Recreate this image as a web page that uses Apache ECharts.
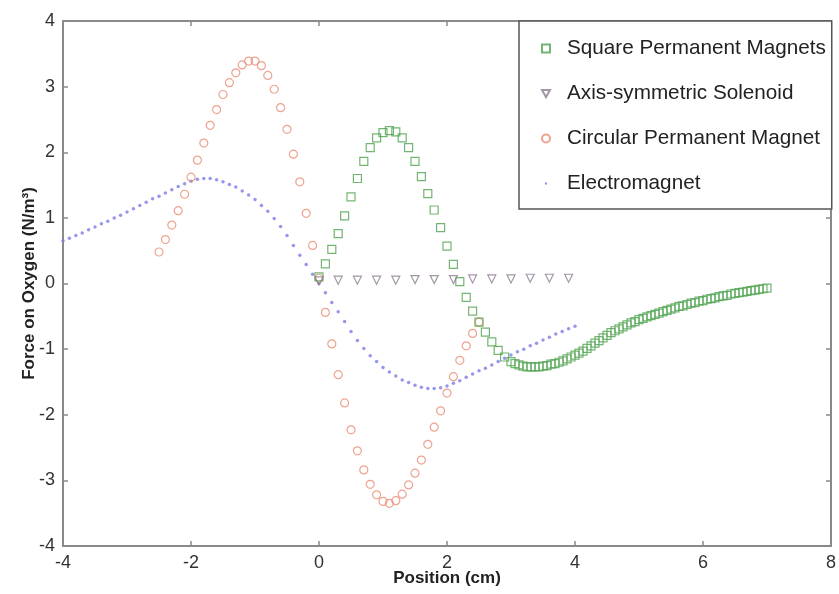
<!DOCTYPE html>
<html>
<head>
<meta charset="utf-8">
<script src="https://cdn.jsdelivr.net/npm/echarts@6/dist/echarts.min.js"></script>
<style>
html,body{margin:0;padding:0;background:#fff;}
#chart{width:839px;height:594px;}
</style>
</head>
<body>
<div id="chart"></div>
<script>
// ---------- data ----------
const xTicks = [-4, -2, 0, 2, 4, 6, 8];
const yTicks = [-4, -3, -2, -1, 0, 1, 2, 3, 4];

const seriesNames = ['Square Permanent Magnets', 'Axis-symmetric Solenoid', 'Circular Permanent Magnet', 'Electromagnet'];

// Square Permanent Magnets
const squareX = [0.0,0.1,0.2,0.3,0.4,0.5,0.6,0.7,0.8,0.9,1.0,1.1,1.2,1.3,1.4,1.5,1.6,1.7,1.8,1.9,2.0,2.1,2.2,2.3,2.4,2.5,2.6,2.7,2.8,2.9,
  3.0,3.0625,3.125,3.1875,3.25,3.3125,3.375,3.4375,3.5,3.5625,3.625,3.6875,3.75,3.8125,3.875,3.9375,
  4.0,4.0625,4.125,4.1875,4.25,4.3125,4.375,4.4375,4.5,4.5625,4.625,4.6875,4.75,4.8125,4.875,4.9375,
  5.0,5.0625,5.125,5.1875,5.25,5.3125,5.375,5.4375,5.5,5.5625,5.625,5.6875,5.75,5.8125,5.875,5.9375,
  6.0,6.0625,6.125,6.1875,6.25,6.3125,6.375,6.4375,6.5,6.5625,6.625,6.6875,6.75,6.8125,6.875,6.9375,7.0];
const squareY = [0.10,0.30,0.52,0.76,1.03,1.32,1.60,1.86,2.07,2.22,2.30,2.33,2.31,2.22,2.07,1.86,1.63,1.37,1.12,0.85,0.57,0.29,0.03,-0.21,-0.42,-0.59,-0.74,-0.89,-1.02,-1.12,
  -1.19,-1.22,-1.24,-1.26,-1.27,-1.27,-1.27,-1.27,-1.26,-1.25,-1.23,-1.22,-1.20,-1.18,-1.15,-1.12,
  -1.09,-1.06,-1.03,-0.99,-0.95,-0.91,-0.87,-0.83,-0.79,-0.75,-0.72,-0.69,-0.66,-0.63,-0.60,-0.58,
  -0.55,-0.53,-0.51,-0.49,-0.47,-0.45,-0.43,-0.41,-0.39,-0.37,-0.35,-0.34,-0.32,-0.30,-0.29,-0.27,
  -0.26,-0.24,-0.23,-0.22,-0.20,-0.19,-0.18,-0.16,-0.15,-0.14,-0.13,-0.12,-0.11,-0.10,-0.09,-0.08,-0.07];

// Axis-symmetric Solenoid
const solenoidX = [0.0,0.3,0.6,0.9,1.2,1.5,1.8,2.1,2.4,2.7,3.0,3.3,3.6,3.9];
const solenoidY = [0.04,0.05,0.05,0.05,0.05,0.06,0.06,0.06,0.07,0.07,0.07,0.08,0.08,0.08];

// Circular Permanent Magnet
const circleX = [-2.5,-2.4,-2.3,-2.2,-2.1,-2.0,-1.9,-1.8,-1.7,-1.6,-1.5,-1.4,-1.3,-1.2,-1.1,-1.0,-0.9,-0.8,-0.7,-0.6,-0.5,-0.4,-0.3,-0.2,-0.1,
  0.0,0.1,0.2,0.3,0.4,0.5,0.6,0.7,0.8,0.9,1.0,1.1,1.2,1.3,1.4,1.5,1.6,1.7,1.8,1.9,2.0,2.1,2.2,2.3,2.4,2.5];
const circleY = [0.48,0.67,0.89,1.11,1.36,1.62,1.88,2.14,2.41,2.65,2.88,3.06,3.21,3.33,3.39,3.39,3.32,3.17,2.96,2.68,2.35,1.97,1.55,1.07,0.58,
  0.08,-0.44,-0.92,-1.39,-1.82,-2.23,-2.55,-2.84,-3.06,-3.22,-3.32,-3.35,-3.31,-3.21,-3.07,-2.89,-2.69,-2.45,-2.19,-1.94,-1.67,-1.42,-1.17,-0.95,-0.76,-0.59];

// Electromagnet
const emX = [-4.0,-3.9,-3.8,-3.7,-3.6,-3.5,-3.4,-3.3,-3.2,-3.1,-3.0,-2.9,-2.8,-2.7,-2.6,-2.5,-2.4,-2.3,-2.2,-2.1,-2.0,-1.9,-1.8,-1.7,-1.6,-1.5,-1.4,-1.3,-1.2,-1.1,-1.0,-0.9,-0.8,-0.7,-0.6,-0.5,-0.4,-0.3,-0.2,-0.1,
  0.0,0.1,0.2,0.3,0.4,0.5,0.6,0.7,0.8,0.9,1.0,1.1,1.2,1.3,1.4,1.5,1.6,1.7,1.8,1.9,2.0,2.1,2.2,2.3,2.4,2.5,2.6,2.7,2.8,2.9,3.0,3.1,3.2,3.3,3.4,3.5,3.6,3.7,3.8,3.9,4.0];
const emY = [0.65,0.69,0.73,0.77,0.82,0.86,0.91,0.95,1.00,1.04,1.09,1.14,1.19,1.24,1.29,1.33,1.38,1.43,1.48,1.52,1.56,1.59,1.60,1.60,1.58,1.55,1.51,1.47,1.41,1.35,1.28,1.19,1.10,0.99,0.87,0.73,0.58,0.43,0.29,0.14,
  0.00,-0.14,-0.29,-0.43,-0.58,-0.73,-0.87,-0.99,-1.10,-1.19,-1.28,-1.35,-1.41,-1.47,-1.51,-1.55,-1.58,-1.60,-1.60,-1.59,-1.56,-1.52,-1.48,-1.43,-1.38,-1.33,-1.29,-1.24,-1.19,-1.14,-1.09,-1.04,-1.00,-0.95,-0.91,-0.86,-0.82,-0.77,-0.73,-0.69,-0.65];

// ---------- chart ----------
const zip = (xs, ys) => xs.map((x, i) => [x, ys[i]]);
const green = '#4fa24f', tri = '#8c7c90', red = '#ea8c74', blue = '#7c7ce8';
const axisCol = '#8a8a8a';
const font = 'Liberation Sans, Arial, sans-serif';

const chart = echarts.init(document.getElementById('chart'), null, {renderer: 'canvas'});

const baseX = {
  type: 'value', min: -4, max: 8, interval: 2,
  axisLine: {show: true, onZero: false, lineStyle: {color: axisCol, width: 2}},
  axisTick: {show: true, inside: true, length: 5, lineStyle: {color: axisCol, width: 1.5}},
  splitLine: {show: false}
};
const baseY = {
  type: 'value', min: -4, max: 4, interval: 1,
  axisLine: {show: true, onZero: false, lineStyle: {color: axisCol, width: 2}},
  axisTick: {show: true, inside: true, length: 5, lineStyle: {color: axisCol, width: 1.5}},
  splitLine: {show: false}
};

chart.setOption({
  animation: false,
  backgroundColor: '#ffffff',
  grid: {left: 63, right: 7, top: 21, bottom: 48, containLabel: false},
  xAxis: [
    Object.assign({}, baseX, {
      position: 'bottom',
      name: 'Position (cm)', nameLocation: 'middle', nameGap: 24, nameMoveOverlap: false,
      nameTextStyle: {fontFamily: font, fontSize: 17, fontWeight: 'bold', color: '#222'},
      axisLabel: {show: true, margin: 8, fontFamily: font, fontSize: 18, color: '#333',
        formatter: v => xTicks.includes(v) ? String(v) : ''}
    }),
    Object.assign({}, baseX, {position: 'top', axisLabel: {show: false}})
  ],
  yAxis: [
    Object.assign({}, baseY, {
      position: 'left',
      name: 'Force on Oxygen (N/m³)', nameLocation: 'middle', nameGap: 25, nameMoveOverlap: false,
      nameTextStyle: {fontFamily: font, fontSize: 17, fontWeight: 'bold', color: '#222'},
      axisLabel: {show: true, margin: 8, fontFamily: font, fontSize: 18, color: '#333',
        formatter: v => yTicks.includes(v) ? String(v) : ''}
    }),
    Object.assign({}, baseY, {position: 'right', axisLabel: {show: false}})
  ],
  legend: {
    orient: 'vertical', left: 519, top: 21,
    padding: [17, 6, 15, 22],
    itemGap: 24, itemWidth: 8, itemHeight: 8,
    backgroundColor: '#ffffff',
    borderColor: '#555', borderWidth: 1.5,
    textStyle: {fontFamily: font, fontSize: 20.7, color: '#222', padding: [0, 0, 0, 12]},
    data: [
      {name: seriesNames[0], icon: 'rect'},
      {name: seriesNames[1], icon: 'path://M0,0L10,0L5,9Z'},
      {name: seriesNames[2], icon: 'circle'},
      {name: seriesNames[3], icon: 'path://M0,0L0.01,0M10,10L10.01,10M3.5,5A1.5,1.5 0 1,0 6.5,5A1.5,1.5 0 1,0 3.5,5Z'}
    ]
  },
  series: [
    {
      name: seriesNames[0], type: 'scatter', symbol: 'rect', symbolSize: 8,
      itemStyle: {color: 'rgba(0,0,0,0)', borderColor: green, borderWidth: 1.2},
      data: zip(squareX, squareY), z: 3
    },
    {
      name: seriesNames[1], type: 'scatter', symbol: 'triangle', symbolSize: 8, symbolRotate: 180,
      itemStyle: {color: 'rgba(0,0,0,0)', borderColor: tri, borderWidth: 1.2},
      data: zip(solenoidX, solenoidY), z: 4
    },
    {
      name: seriesNames[2], type: 'scatter', symbol: 'circle', symbolSize: 8,
      itemStyle: {color: 'rgba(0,0,0,0)', borderColor: red, borderWidth: 1.2},
      data: zip(circleX, circleY), z: 2
    },
    {
      name: seriesNames[3], type: 'scatter', symbol: 'circle', symbolSize: 3.5,
      itemStyle: {color: blue, borderWidth: 0},
      data: zip(emX, emY), z: 1
    }
  ]
});
</script>
</body>
</html>
